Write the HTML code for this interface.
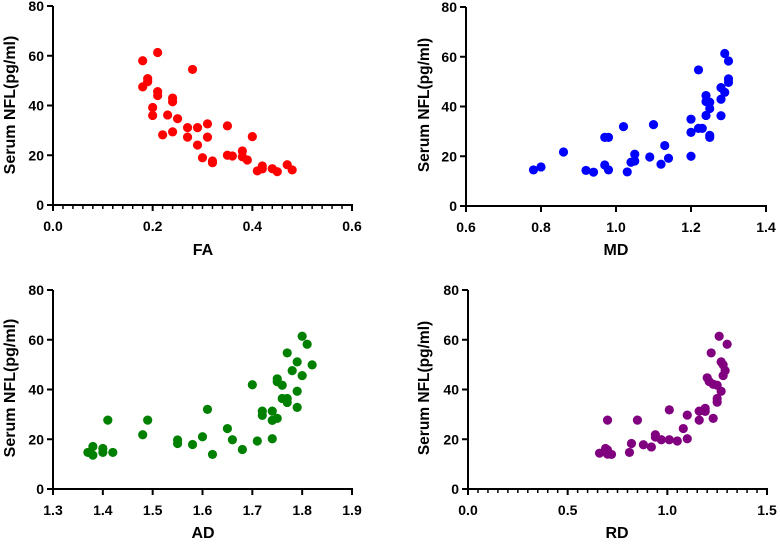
<!DOCTYPE html>
<html><head><meta charset="utf-8"><style>
body{margin:0;background:#fff;}
svg text{font-family:"Liberation Sans",Arial,sans-serif;font-weight:bold;fill:#000;}
</style></head><body>
<svg id="c" width="780" height="540" xmlns="http://www.w3.org/2000/svg"></svg>
<script>
const nflFA=[58,61.3,50.8,49.6,47.5,45.6,44,43,41.5,39.2,36,36.2,34.7,54.5,31.1,31.1,32.6,31.8,28.2,29.4,27.3,27.3,27.5,24.1,19,17.7,17,20,19.7,21.7,19.4,18.1,13.7,15.7,14.5,14.6,13.4,16.2,14.1];
const valFA=[0.18,0.21,0.19,0.19,0.18,0.21,0.21,0.24,0.24,0.20,0.20,0.23,0.25,0.28,0.27,0.29,0.31,0.35,0.22,0.24,0.27,0.31,0.40,0.29,0.30,0.32,0.32,0.35,0.36,0.38,0.38,0.39,0.41,0.42,0.42,0.44,0.45,0.47,0.48];
const valMD=[0.78,0.80,0.86,0.92,0.94,0.97,0.98,0.97,0.98,1.02,1.03,1.04,1.05,1.05,1.10,1.09,1.13,1.12,1.14,1.22,1.20,1.20,1.20,1.22,1.23,1.24,1.24,1.25,1.25,1.24,1.25,1.25,1.28,1.29,1.28,1.28,1.29,1.30,1.30,1.30];
const nflMD=[14.5,15.7,21.7,14.3,13.6,27.6,27.6,16.5,14.5,31.9,13.7,17.6,18.1,20.8,32.7,19.7,24.3,16.8,19.2,54.7,34.9,29.6,20,31.2,31.2,44.4,42,41.7,39.2,36.4,28.4,27.6,47.6,45.7,42.9,36.3,61.3,58.3,51.1,49.7];
const valAD=[1.37,1.38,1.38,1.40,1.40,1.41,1.42,1.48,1.49,1.55,1.55,1.58,1.60,1.61,1.62,1.65,1.66,1.68,1.70,1.71,1.72,1.72,1.74,1.74,1.74,1.75,1.75,1.75,1.76,1.76,1.77,1.77,1.77,1.78,1.79,1.79,1.79,1.80,1.80,1.81,1.82];
const nflAD=[14.7,17.1,13.6,16.3,14.7,27.7,14.7,21.8,27.7,19.7,18.3,17.9,21,32,13.9,24.3,19.8,15.9,41.9,19.3,31.3,29.6,31.3,27.6,20.2,28.4,44.3,43.1,41.7,36.4,36.4,34.8,54.7,47.6,51.1,39.3,32.8,61.4,45.6,58.2,49.9];
const valRD=[0.66,0.69,0.70,0.70,0.70,0.72,0.81,0.82,0.85,0.88,0.92,0.94,0.94,0.97,1.01,1.01,1.05,1.08,1.10,1.10,1.16,1.16,1.19,1.19,1.20,1.21,1.22,1.23,1.25,1.23,1.25,1.25,1.26,1.27,1.27,1.28,1.28,1.29,1.30];
const nflRD=[14.4,16.3,27.7,15.7,14,13.9,14.7,18.3,27.7,17.8,16.9,21.8,20.9,19.8,19.8,31.8,19.3,24.3,20.2,29.7,27.7,31.3,32.4,31.2,44.7,43.2,54.7,42.1,41.7,28.4,36.4,34.9,61.4,39.3,51.1,49.9,45.6,47.6,58.2];
const yTicks=[0,20,40,60,80];
const ticksFA=["0.0","0.2","0.4","0.6"];
const ticksMD=["0.6","0.8","1.0","1.2","1.4"];
const ticksAD=["1.3","1.4","1.5","1.6","1.7","1.8","1.9"];
const ticksRD=["0.0","0.5","1.0","1.5"];

const svg=document.getElementById('c');
const NS='http://www.w3.org/2000/svg';
function mk(tag,at,parent){const e=document.createElementNS(NS,tag);for(const k in at)e.setAttribute(k,at[k]);(parent||svg).appendChild(e);return e;}

function panel(id,ax,x1,y0,y1,xmin,xmax,xticks,minor,xs,ys,color,title,titleX,titleY,ytx,yty,yfs){
  const g=mk('g',{});
  
  
  const X=v=>ax+(v-xmin)/(xmax-xmin)*(x1-ax);
  const Y=v=>y0-(v/80)*(y0-y1);
  const yaxis=mk('line',{x1:ax,y1:y0,x2:ax,y2:y1,stroke:'#000','stroke-width':2},g);
  
  
  const xaxis=mk('line',{x1:ax-1,y1:y0,x2:x1+1,y2:y0,stroke:'#000','stroke-width':2},g);
  
  
  yTicks.forEach(t=>{
    mk('line',{x1:ax-6,y1:Y(t),x2:ax,y2:Y(t),stroke:'#000','stroke-width':2},g);
    const tx=mk('text',{x:ax-9,y:Y(t)+5,'text-anchor':'end','font-size':14},g);
    tx.textContent=t;
    
    
  });
  xticks.forEach(s=>{
    const v=parseFloat(s);
    mk('line',{x1:X(v),y1:y0,x2:X(v),y2:y0+6,stroke:'#000','stroke-width':2},g);
    const tx=mk('text',{x:X(v),y:y0+26,'text-anchor':'middle','font-size':14},g);
    tx.textContent=s;
    
    
  });
  if(minor){
    for(let v=xmin;v<xmax-1e-9;v+=minor){
      mk('line',{x1:X(v),y1:y0,x2:X(v),y2:y0+4,stroke:'#000','stroke-width':1.5},g);
    }
  }
  xs.forEach((v,i)=>{
    const c=mk('circle',{cx:X(v),cy:Y(ys[i]),r:4.6,fill:color},g);
    
    
  });
  const xt=mk('text',{x:titleX,y:titleY,'text-anchor':'middle','font-size':16},g);
  xt.textContent=title;
  
  
  const yt=mk('text',{x:0,y:0,'text-anchor':'middle','font-size':yfs,transform:`translate(${ytx},${yty}) rotate(-90)`},g);
  yt.textContent='Serum NFL(pg/ml)';
  
  
}
panel('fa',53,352,205,6,0,0.6,ticksFA,0.02,valFA,nflFA,'#ff0000','FA',203,255,15,105,16);
panel('md',466,766,206,7,0.6,1.4,ticksMD,0,valMD,nflMD,'#0000ff','MD',616,255,429,105,15.5);
panel('ad',53,352,489,290,1.3,1.9,ticksAD,0,valAD,nflAD,'#008000','AD',203,538,15,388,16);
panel('rd',468,767,489,290,0,1.5,ticksRD,0.05,valRD,nflRD,'#800080','RD',617,538,429,388,15.5);
</script>
</body></html>
